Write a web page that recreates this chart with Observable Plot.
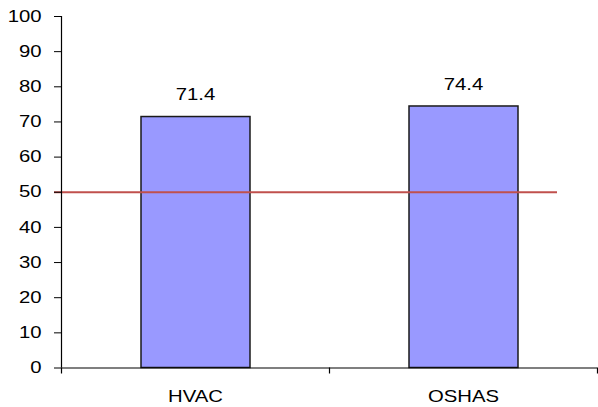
<!DOCTYPE html>
<html>
<head>
<meta charset="utf-8">
<script src="https://cdn.jsdelivr.net/npm/d3@7"></script>
<script src="https://cdn.jsdelivr.net/npm/@observablehq/plot@0.6"></script>
<style>
  html, body { margin: 0; padding: 0; background: #fff; }
  svg { display: block; }
</style>
</head>
<body>
<div id="chart"></div>
<script>
// Scores per standard, with the pass threshold drawn as a reference line
const categories = ["HVAC", "OSHAS"];
const scores = [71.4, 74.4];
const threshold = 50;
const yTicks = [0, 10, 20, 30, 40, 50, 60, 70, 80, 90, 100];

const data = categories.map((c, i) => ({category: c, score: scores[i]}));

const font = "Arial, 'Liberation Sans', sans-serif";
const chart = Plot.plot({
  width: 598,
  height: 407,
  marginLeft: 61,
  marginRight: 1,
  marginTop: 16,
  marginBottom: 39.5,
  style: {fontFamily: font, fontSize: "16px", color: "#000", background: "#fff"},
  x: {domain: categories, padding: 0},
  y: {domain: [0, 100]},
  marks: [
    Plot.barY(data, {
      x: "category", y: "score",
      fill: "#9999ff", stroke: "#1a1a1a", strokeWidth: 1.5,
      insetLeft: 80, insetRight: 79
    }),
    Plot.ruleY([threshold], {stroke: "#c0504d", strokeWidth: 2, insetLeft: -7, insetRight: 40}),
    Plot.text(data, {
      x: "category", y: "score", text: d => d.score.toFixed(1),
      dy: -22, fontSize: 16, fill: "#000"
    }),
    // axis lines
    Plot.ruleY([0], {stroke: "#000", strokeWidth: 1.2}),
    Plot.ruleX([categories[0]], {dx: -134, y1: 0, y2: 100, stroke: "#000", strokeWidth: 1.2}),
    // category boundary ticks below the baseline
    Plot.ruleX(categories, {dx: -134, y1: 0, y2: 0, insetBottom: -6, stroke: "#000", strokeWidth: 1.2}),
    Plot.ruleX([categories[categories.length - 1]], {dx: 134, y1: 0, y2: 0, insetBottom: -6, stroke: "#000", strokeWidth: 1.2}),
    Plot.axisY({ticks: yTicks, tickSize: 7, tickPadding: 13, fontSize: 16, label: null, tickFormat: d => d}),
    Plot.axisX({tickSize: 0, tickPadding: 23, fontSize: 16, label: null})
  ]
});

// Widen the lettering horizontally around each label's anchor point
const stretch = 1.27;
chart.querySelectorAll("text").forEach(t => {
  const tr = t.getAttribute("transform");
  if (tr) {
    t.setAttribute("transform", `${tr} scale(${stretch},1)`);
  } else {
    const x = +(t.getAttribute("x") || 0), y = +(t.getAttribute("y") || 0);
    t.setAttribute("transform", `translate(${x},${y}) scale(${stretch},1) translate(${-x},${-y})`);
  }
});

document.getElementById("chart").appendChild(chart);
</script>
</body>
</html>
